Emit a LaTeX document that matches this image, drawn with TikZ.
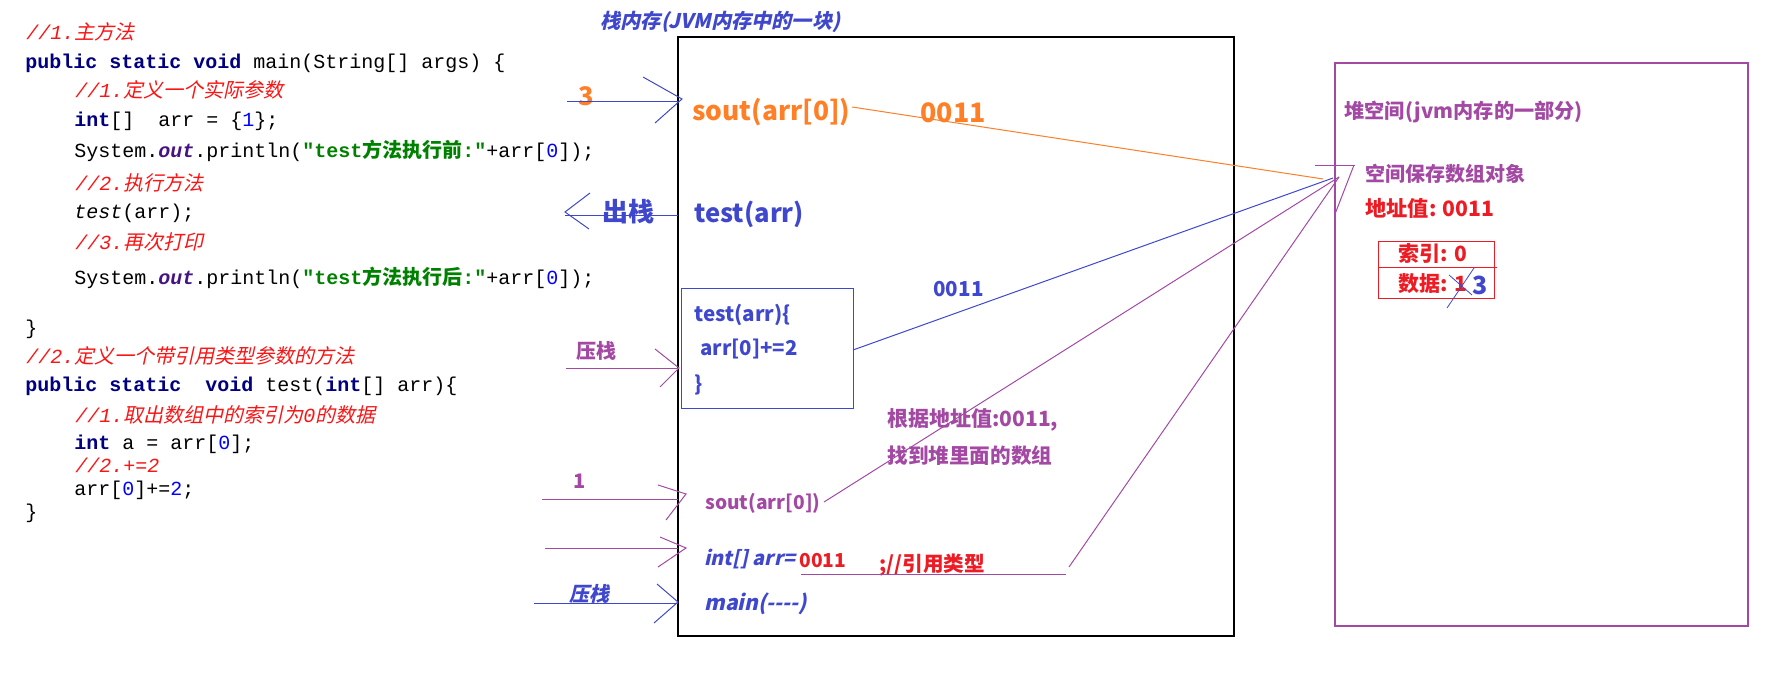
\documentclass[tikz,border=0pt]{standalone}
\usepackage{fontspec}
\setmonofont{Liberation Mono}
\newfontfamily\cjk{Noto Sans CJK SC}
\newfontfamily\cjki[FakeSlant=0.22]{Noto Sans CJK SC}
\definecolor{ind}{RGB}{63,72,204}
\definecolor{pur}{RGB}{163,73,164}
\definecolor{orng}{RGB}{255,127,39}
\definecolor{rd}{RGB}{237,28,36}
\definecolor{cred}{RGB}{250,20,20}
\definecolor{navy}{RGB}{0,0,128}
\definecolor{sgreen}{RGB}{0,128,0}
\definecolor{nblue}{RGB}{0,0,255}
\definecolor{outc}{RGB}{70,20,130}
\newcommand\zh[1]{{\cjk #1}}
\newcommand\zhi[1]{{\cjki #1}}
\newcommand\kw[1]{\textcolor{navy}{\bfseries #1}}
\newcommand\cmt[1]{\textcolor{cred}{\itshape #1}}
\newcommand\num[1]{\textcolor{nblue}{#1}}
\newcommand\outw{\textcolor{outc}{\bfseries\itshape out}}
\newcommand\str[1]{\textcolor{sgreen}{\bfseries #1}}
\tikzset{
  code/.style={anchor=west, inner sep=0pt, font={\ttfamily\fontsize{10}{12}\selectfont}, text height=7.5pt, text depth=2.5pt},
  lab/.style={anchor=west, inner sep=0pt, font={\cjk\bfseries\fontsize{#1}{#1}\selectfont}},
  labi/.style={anchor=west, inner sep=0pt, font={\cjki\bfseries\fontsize{#1}{#1}\selectfont}},
  thinln/.style={line width=0.5pt},
}
\begin{document}
\begin{tikzpicture}[x=0.5pt,y=-0.5pt]
\useasboundingbox (0,0) rectangle (1791,673);
% ---------------- code ----------------
\node[code] (l1)  at (26,35)    {\cmt{//1.\zhi{主方法}}};
\node[code] (l2)  at (25,63.3)  {\kw{public static void} main(String[] args) \{};
\node[code] (l3)  at (75,92.7)  {\cmt{//1.\zhi{定义一个实际参数}}};
\node[code] (l4)  at (74,121.7) {\kw{int}[]~~arr = \{\num{1}\};};
\node[code] (l5)  at (74,152.3) {System.\outw.println(\str{"test\zh{方法执行前}:"}+arr[\num{0}]);};
\node[code] (l6)  at (75,186)   {\cmt{//2.\zhi{执行方法}}};
\node[code] (l7)  at (74,213.3) {{\itshape test}(arr);};
\node[code] (l8)  at (75,244.3) {\cmt{//3.\zhi{再次打印}}};
\node[code] (l9)  at (74,280)   {System.\outw.println(\str{"test\zh{方法执行后}:"}+arr[\num{0}]);};
\node[code] (l10) at (25,330)   {\}};
\node[code] (l11) at (26,359)   {\cmt{//2.\zhi{定义一个带引用类型参数的方法}}};
\node[code] (l12) at (25,386)   {\kw{public static}~~\kw{void} test(\kw{int}[] arr)\{};
\node[code] (l13) at (75,417)   {\cmt{//1.\zhi{取出数组中的索引为}0\zhi{的数据}}};
\node[code] (l14) at (74,444)   {\kw{int} a = arr[\num{0}];};
\node[code] (l15) at (75,467)   {\cmt{//2.+=2}};
\node[code] (l16) at (74,490)   {arr[\num{0}]+=\num{2};};
\node[code] (l17) at (25,513)   {\}};
% ---------------- stack ----------------
\node[labi=10.1, text=ind] (title) at (600,22) {栈内存(JVM内存中的一块)};
\draw[line width=0.7pt] (678,37) coordinate (stTL) rectangle (1234,636) coordinate (stBR);
\node[lab=12.8, text=orng] (n3) at (578,96) {3};
\node[lab=13.2, text=orng] (soutO) at (692,112) {sout(arr[0])};
\node[lab=13.4, text=orng] (o0011) at (920,113) {0011};
\node[lab=13, text=ind] (chuz) at (602,212) {出栈};
\node[lab=12.8, text=ind] (testA) at (694,214) {test(arr)};
\draw[ind, thinln] (681,289) coordinate (inTL) rectangle (853,408) coordinate (inBR);
\node[lab=10.3, text=ind] (t1) at (694,315) {test(arr)\{};
\node[lab=10.2, text=ind] (t2) at (700,349) {arr[0]+=2};
\node[lab=10.3, text=ind] (t3) at (694,385) {\}};
\node[lab=10.3, text=ind] (b0011) at (933,289.5) {0011};
\node[lab=10, text=pur] (yz1) at (576,351) {压栈};
\node[lab=10.5, text=pur] (gen1) at (887,420) {根据地址值:0011,};
\node[lab=10.3, text=pur] (gen2) at (887,456) {找到堆里面的数组};
\node[lab=10, text=pur] (one) at (573,481) {1};
\node[lab=9.6, text=pur] (soutP) at (705,503) {sout(arr[0])};
\node[labi=9.9, text=ind] (intarr) at (704,559) {int[] arr=};
\node[lab=9.6, text=rd] (r0011) at (799,561) {0011};
\node[lab=10.3, text=rd] (ref) at (879,565) {;//引用类型};
\node[labi=10, text=ind] (yz2) at (569,594) {压栈};
\node[labi=10.5, text=ind] (mainN) at (704,604) {main(-{}-{}-{}-)};
% ---------------- heap ----------------
\draw[pur, line width=0.6pt] (1335,63) coordinate (hpTL) rectangle (1748,626) coordinate (hpBR);
\node[lab=10.1, text=pur] (htitle) at (1344,112) {堆空间(jvm内存的一部分)};
\node[lab=10, text=pur] (h2) at (1365,174) {空间保存数组对象};
\node[lab=10.6, text=rd] (h3) at (1365,208) {地址值: 0011};
\draw[rd, thinln] (1378,242) coordinate (tbTL) rectangle (1494,299) coordinate (tbBR);
\coordinate (tmL) at (1378,268); \coordinate (tmR) at (1497,268);
\draw[rd, thinln] (tmL) -- (tmR);
\node[lab=10.5, text=rd] (idx) at (1398,254) {索引: 0};
\node[lab=10.5, text=rd] (dat) at (1398,284) {数据: 1};
\node[lab=12.5, text=ind] (b3) at (1472,285.5) {3};
\coordinate (x1a) at (1449,275); \coordinate (x1b) at (1472,295);
\coordinate (x2a) at (1474,268); \coordinate (x2b) at (1447,308);
\draw[ind, line width=0.4pt] (x1a) -- (x1b);
\draw[ind, line width=0.4pt] (x2a) -- (x2b);
% heap pointer mark
\coordinate (hmA) at (1315,166); \coordinate (hmB) at (1355,166);
\coordinate (hmC) at (1354,165); \coordinate (hmD) at (1335,214);
\draw[pur, thinln] (hmA) -- (hmB);
\draw[pur, thinln] (hmC) -- (hmD);
% ---------------- converging lines ----------------
\coordinate (cO) at (1323,179);
\coordinate (cB) at (1333,178);
\coordinate (cP) at (1339,177);
\coordinate (oS) at (852,107);
\coordinate (bS) at (853,350);
\coordinate (pS) at (824,502);
\coordinate (uL) at (801,574); \coordinate (uR) at (1066,574);
\coordinate (dS) at (1069,567);
\draw[orng, thinln] (oS) -- (cO);
\draw[ind, thinln] (bS) -- (cB);
\draw[pur, thinln] (pS) -- (cP);
\draw[pur, thinln] (uL) -- (uR);
\draw[pur, thinln] (dS) -- (cP);
% ---------------- left arrows ----------------
% A1
\coordinate (a1s) at (567,102); \coordinate (a1e) at (678,102);
\coordinate (a1u) at (643,77); \coordinate (a1t) at (682,99); \coordinate (a1d) at (655,123);
\draw[ind, thinln] (a1s) -- (a1e);
\draw[ind, thinln] (a1u) -- (a1t) -- (a1d);
% A2 (pop)
\coordinate (a2s) at (678,216); \coordinate (a2e) at (565,216);
\coordinate (a2u) at (590,193); \coordinate (a2t) at (565,212); \coordinate (a2d) at (589,229);
\draw[ind, thinln] (a2s) -- (a2e);
\draw[ind, thinln] (a2u) -- (a2t) -- (a2d);
% A3
\coordinate (a3s) at (566,368); \coordinate (a3e) at (678,368);
\coordinate (a3u) at (655,349); \coordinate (a3t) at (679,368); \coordinate (a3d) at (660,387);
\draw[pur, thinln] (a3s) -- (a3e);
\draw[pur, thinln] (a3u) -- (a3t) -- (a3d);
% A4
\coordinate (a4s) at (542,499); \coordinate (a4e) at (678,499);
\coordinate (a4u) at (658,485); \coordinate (a4t) at (686,494); \coordinate (a4d) at (666,520);
\draw[pur, thinln] (a4s) -- (a4e);
\draw[pur, thinln] (a4u) -- (a4t) -- (a4d);
% A5
\coordinate (a5s) at (545,548); \coordinate (a5e) at (678,548);
\coordinate (a5u) at (660,537); \coordinate (a5t) at (686,548); \coordinate (a5d) at (658,567);
\draw[pur, thinln] (a5s) -- (a5e);
\draw[pur, thinln] (a5u) -- (a5t) -- (a5d);
% A6
\coordinate (a6s) at (534,603); \coordinate (a6e) at (678,603);
\coordinate (a6u) at (657,584); \coordinate (a6t) at (678,602); \coordinate (a6d) at (654,623);
\draw[ind, thinln] (a6s) -- (a6e);
\draw[ind, thinln] (a6u) -- (a6t) -- (a6d);
\end{tikzpicture}
\end{document}
